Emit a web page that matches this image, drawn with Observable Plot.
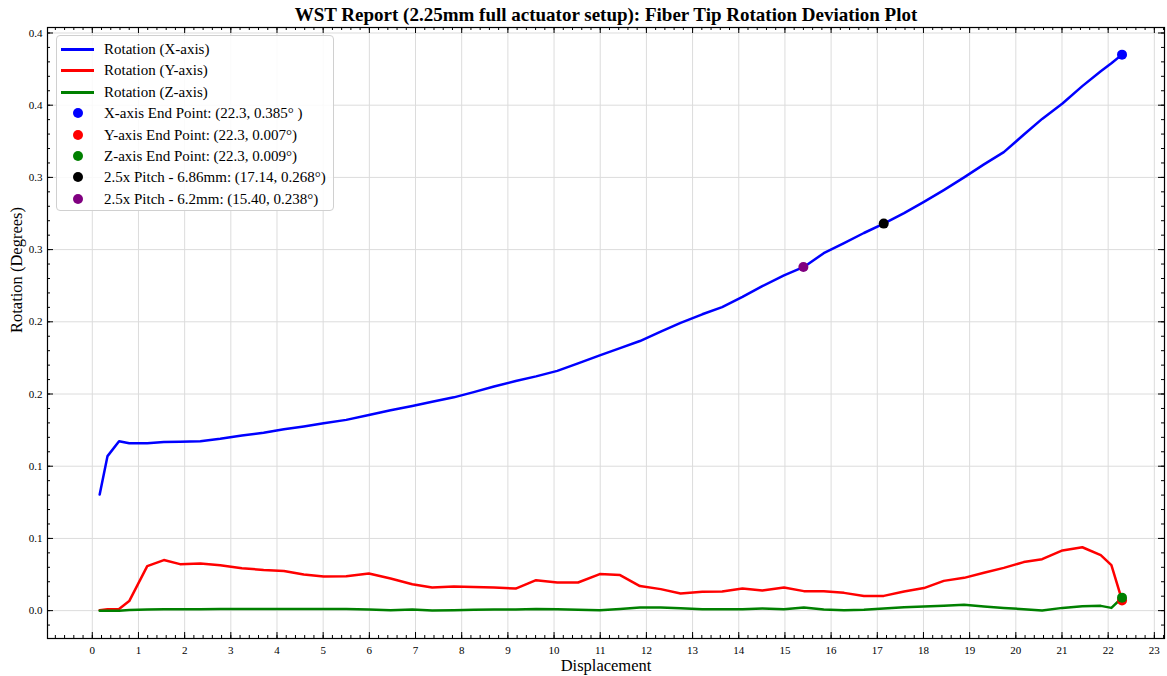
<!DOCTYPE html>
<html>
<head>
<meta charset="utf-8">
<script src="https://cdn.jsdelivr.net/npm/d3@7"></script>
<script src="https://cdn.jsdelivr.net/npm/@observablehq/plot@0.6"></script>
<style>
  html, body { margin: 0; padding: 0; background: #fff; }
  #wrap { position: relative; width: 1167px; height: 676px; font-family: "Liberation Serif", "DejaVu Serif", serif; }
  #legend { position: absolute; left: 56px; top: 35px; width: 278px; height: 176px;
    border: 1px solid #d0d0d0; border-radius: 4px; background: rgba(255,255,255,0.85); box-sizing: border-box; }
  .row { position: absolute; left: 0; height: 20px; display: flex; align-items: center; font-size: 15px; color: #000; white-space: nowrap; }
  .sw { width: 47px; height: 20px; position: relative; }
  .sw .ln { position: absolute; left: 4px; width: 33px; top: 9px; height: 3px; }
  .sw .dt { position: absolute; left: 16px; top: 5px; width: 10px; height: 10px; border-radius: 50%; }
</style>
</head>
<body>
<div id="wrap"><div id="chart"></div><div id="legend"></div></div>
<script>
// ---- data ----
const xs = [0.16, 0.33, 0.58, 0.80, 1.19, 1.55, 1.90, 2.34, 2.77, 3.24, 3.71, 4.15, 4.58, 5.01, 5.50, 5.99,
  6.46, 6.93, 7.36, 7.83, 8.26, 8.70, 9.17, 9.61, 10.07, 10.52, 10.99, 11.43, 11.86, 12.31, 12.74, 13.21,
  13.64, 14.08, 14.51, 14.98, 15.41, 15.84, 16.28, 16.71, 17.14, 17.58, 18.01, 18.44, 18.88, 19.31, 19.74,
  20.17, 20.57, 21.01, 21.44, 21.84, 22.07, 22.30];
const rotX = [0.0804, 0.107, 0.1173, 0.1159, 0.1159, 0.1168, 0.1170, 0.1173, 0.1190, 0.1212, 0.1232, 0.1256,
  0.1275, 0.1297, 0.1321, 0.1355, 0.1388, 0.1417, 0.1446, 0.1477, 0.1513, 0.1552, 0.1590, 0.1622, 0.1660,
  0.1712, 0.1768, 0.1818, 0.1867, 0.1932, 0.1992, 0.2052, 0.2102, 0.2172, 0.2247, 0.2322, 0.2380, 0.2475,
  0.2545, 0.2615, 0.2680, 0.2752, 0.2830, 0.2912, 0.3000, 0.3090, 0.3175, 0.3295, 0.3405, 0.3512, 0.3632,
  0.3735, 0.3790, 0.3850];
const rotY = [0.0003, 0.0010, 0.0012, 0.0066, 0.0308, 0.0350, 0.0322, 0.0327, 0.0315, 0.0294, 0.0282, 0.0275,
  0.0250, 0.0236, 0.0238, 0.0257, 0.0223, 0.0183, 0.0160, 0.0167, 0.0163, 0.0160, 0.0153, 0.0211, 0.0195,
  0.0195, 0.0253, 0.0246, 0.0170, 0.0149, 0.0119, 0.0130, 0.0133, 0.0154, 0.0140, 0.0160, 0.0135, 0.0135,
  0.0123, 0.0102, 0.0102, 0.0133, 0.0156, 0.0206, 0.0227, 0.0262, 0.0296, 0.0336, 0.0356, 0.0417, 0.0439,
  0.0384, 0.0315, 0.0073];
const rotZ = [0.0000, 0.0000, 0.0000, 0.0004, 0.0008, 0.0009, 0.0010, 0.0010, 0.0011, 0.0011, 0.0011, 0.0012,
  0.0012, 0.0012, 0.0012, 0.0008, 0.0003, 0.0008, 0.0001, 0.0003, 0.0006, 0.0007, 0.0008, 0.0012, 0.0010,
  0.0006, 0.0003, 0.0012, 0.0022, 0.0022, 0.0017, 0.0010, 0.0010, 0.0010, 0.0015, 0.0010, 0.0022, 0.0008,
  0.0003, 0.0006, 0.0015, 0.0024, 0.0029, 0.0033, 0.0040, 0.0029, 0.0019, 0.0010, 0.0001, 0.0019, 0.0031,
  0.0033, 0.0019, 0.0089];
const seriesNames = ["Rotation (X-axis)", "Rotation (Y-axis)", "Rotation (Z-axis)"];
const seriesColors = ["#0000ff", "#ff0000", "#008000"];
const pointLabels = ["X-axis End Point: (22.3, 0.385° )", "Y-axis End Point: (22.3, 0.007°)",
  "Z-axis End Point: (22.3, 0.009°)", "2.5x Pitch - 6.86mm: (17.14, 0.268°)", "2.5x Pitch - 6.2mm: (15.40, 0.238°)"];
const pointX = [22.3, 22.3, 22.3, 17.14, 15.40];
const pointY = [0.385, 0.007, 0.009, 0.268, 0.238];
const pointColors = ["#0000ff", "#ff0000", "#008000", "#000000", "#800080"];
const xTicks = d3.range(0, 24);
const xMinor = d3.range(-0.8, 23.21, 0.2).map(v => +v.toFixed(2));
const yTicks = [0, 0.05, 0.10, 0.15, 0.20, 0.25, 0.30, 0.35, 0.40];
const yTickLabels = ["0.0", "0.1", "0.1", "0.2", "0.2", "0.3", "0.3", "0.4", "0.4"];
const yMinor = d3.range(-0.01, 0.401, 0.01).map(v => +v.toFixed(3));
const title = "WST Report (2.25mm full actuator setup): Fiber Tip Rotation Deviation Plot";
const xLabel = "Displacement";
const yLabel = "Rotation (Degrees)";

// ---- build ----
const rows = [];
[rotX, rotY, rotZ].forEach((arr, k) => arr.forEach((v, i) => rows.push({x: xs[i], y: v, s: seriesNames[k]})));
const pts = pointX.map((x, i) => ({x, y: pointY[i], c: pointColors[i]}));

const W = 1167, H = 676, mL = 47, mR = 3, mT = 27, mB = 38;
const pW = W - mL - mR, pH = H - mT - mB;

const chart = Plot.plot({
  width: W, height: H, marginLeft: mL, marginRight: mR, marginTop: mT, marginBottom: mB,
  style: {fontFamily: "'Liberation Serif', serif", background: "#fff", color: "#000"},
  x: {domain: [-0.97, 23.22]},
  y: {domain: [-0.0193, 0.4038]},
  color: {domain: seriesNames, range: seriesColors},
  marks: [
    Plot.gridX(xTicks, {stroke: "#dcdcdc", strokeOpacity: 1, strokeWidth: 1}),
    Plot.gridY(yTicks, {stroke: "#dcdcdc", strokeOpacity: 1, strokeWidth: 1}),
    Plot.line(rows, {x: "x", y: "y", z: "s", stroke: "s", strokeWidth: 2.5, strokeLinejoin: "round"}),
    Plot.dot(pts, {x: "x", y: "y", fill: "c", r: 5}),
    // inward ticks on all four sides
    Plot.tickX(xTicks, {x: d => d, insetTop: pH - 6, stroke: "#000"}),
    Plot.tickX(xTicks, {x: d => d, insetBottom: pH - 6, stroke: "#000"}),
    Plot.tickX(xMinor, {x: d => d, insetTop: pH - 3, stroke: "#000"}),
    Plot.tickX(xMinor, {x: d => d, insetBottom: pH - 3, stroke: "#000"}),
    Plot.tickY(yTicks, {y: d => d, insetRight: pW - 6, stroke: "#000"}),
    Plot.tickY(yTicks, {y: d => d, insetLeft: pW - 6, stroke: "#000"}),
    Plot.tickY(yMinor, {y: d => d, insetRight: pW - 3, stroke: "#000"}),
    Plot.tickY(yMinor, {y: d => d, insetLeft: pW - 3, stroke: "#000"}),
    Plot.axisX(xTicks, {tickSize: 0, tickPadding: 8, fontSize: 11, label: null}),
    Plot.axisY(yTicks, {tickSize: 0, tickPadding: 5, fontSize: 11, label: null,
      tickFormat: d => yTickLabels[yTicks.findIndex(t => Math.abs(t - d) < 1e-9)]}),
    Plot.frame({stroke: "#000", strokeWidth: 1.2}),
    Plot.text([title], {frameAnchor: "top", lineAnchor: "middle", dy: -13, fontSize: 19, fontWeight: "bold", fill: "#000"}),
    Plot.text([xLabel], {frameAnchor: "bottom", lineAnchor: "middle", dy: 27, fontSize: 16.5, fill: "#000"}),
    Plot.text([yLabel], {frameAnchor: "left", lineAnchor: "middle", dx: -31, rotate: -90, fontSize: 16.5, fill: "#000"})
  ]
});
document.getElementById("chart").appendChild(chart);

// legend
const legend = document.getElementById("legend");
const entries = seriesNames.map((n, i) => ({label: n, color: seriesColors[i], type: "line"}))
  .concat(pointLabels.map((n, i) => ({label: n, color: pointColors[i], type: "dot"})));
entries.forEach((e, i) => {
  const row = document.createElement("div");
  row.className = "row";
  row.style.top = Math.round(3 + i * 21.4) + "px";
  const sw = document.createElement("div");
  sw.className = "sw";
  const m = document.createElement("div");
  m.className = e.type === "line" ? "ln" : "dt";
  m.style.background = e.color;
  sw.appendChild(m);
  const t = document.createElement("span");
  t.textContent = e.label;
  row.appendChild(sw);
  row.appendChild(t);
  legend.appendChild(row);
});
</script>
</body>
</html>
